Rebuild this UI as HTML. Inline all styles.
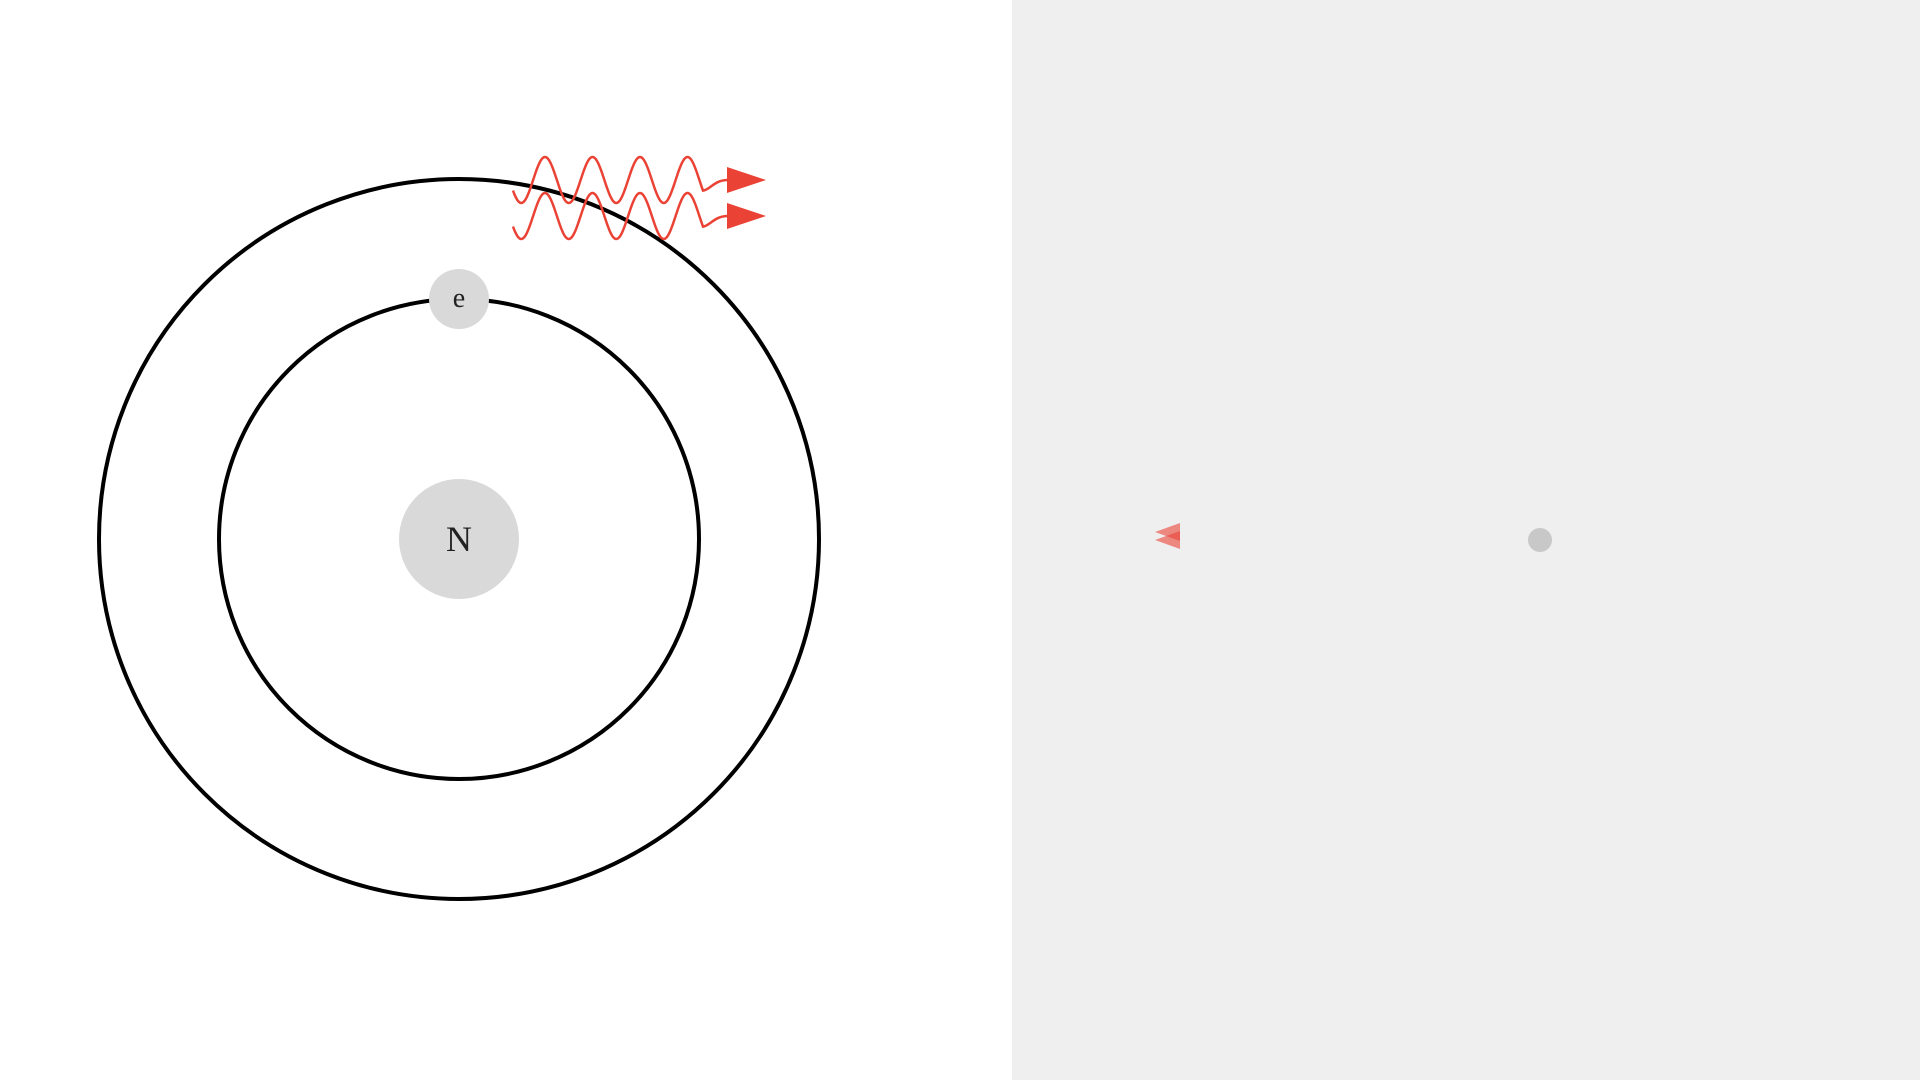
<!DOCTYPE html>
<html><head><meta charset="utf-8"><style>
html,body{margin:0;padding:0;width:1920px;height:1080px;overflow:hidden;background:#fff}
svg{display:block}
</style></head><body>
<svg width="1920" height="1080" viewBox="0 0 1920 1080" xmlns="http://www.w3.org/2000/svg">
<rect x="1012" y="0" width="908" height="1080" fill="#efefef"/>
<circle cx="459" cy="539" r="360" fill="none" stroke="#000" stroke-width="4"/>
<circle cx="459" cy="539" r="240" fill="none" stroke="#000" stroke-width="4"/>
<circle cx="459" cy="539" r="60" fill="#d9d9d9"/>
<text x="459" y="551" text-anchor="middle" font-family="Liberation Serif, serif" font-size="36" fill="#222">N</text>
<circle cx="459" cy="299" r="30" fill="#d9d9d9"/>
<text x="459" y="307" text-anchor="middle" font-family="Liberation Serif, serif" font-size="28" fill="#222">e</text>
<g id="waves"></g>
<g fill="#ea4335" fill-opacity="0.6">
<polygon points="1180,523 1155,532 1180,541"/>
<polygon points="1180,531 1155,540 1180,549"/>
</g>
<circle cx="1540" cy="540" r="12" fill="#c8c8c8"/>
</svg>
<script>
const waveOffsets=[0,36];
const g=document.getElementById('waves');
waveOffsets.forEach((off,i)=>{
  const c=180+off, A=23, P=47.5;
  let d='';
  for(let x=513;x<=703;x+=1){
    const y=c-A*Math.cos(2*Math.PI*(x-545)/P);
    d+=(x===513?'M':'L')+x+','+y.toFixed(2)+' ';
  }
  d+='C710,'+(c+10)+' 714,'+c+' 728,'+c;
  const p=document.createElementNS('http://www.w3.org/2000/svg','path');
  p.setAttribute('d',d);p.setAttribute('fill','none');p.setAttribute('stroke','#ea4335');p.setAttribute('stroke-width','2.5');
  
  
  g.appendChild(p);
  const a=document.createElementNS('http://www.w3.org/2000/svg','polygon');
  a.setAttribute('points','727,'+(c-13)+' 766,'+c+' 727,'+(c+13));
  a.setAttribute('fill','#ea4335');
  
  
  g.appendChild(a);
});
</script>
</body></html>
